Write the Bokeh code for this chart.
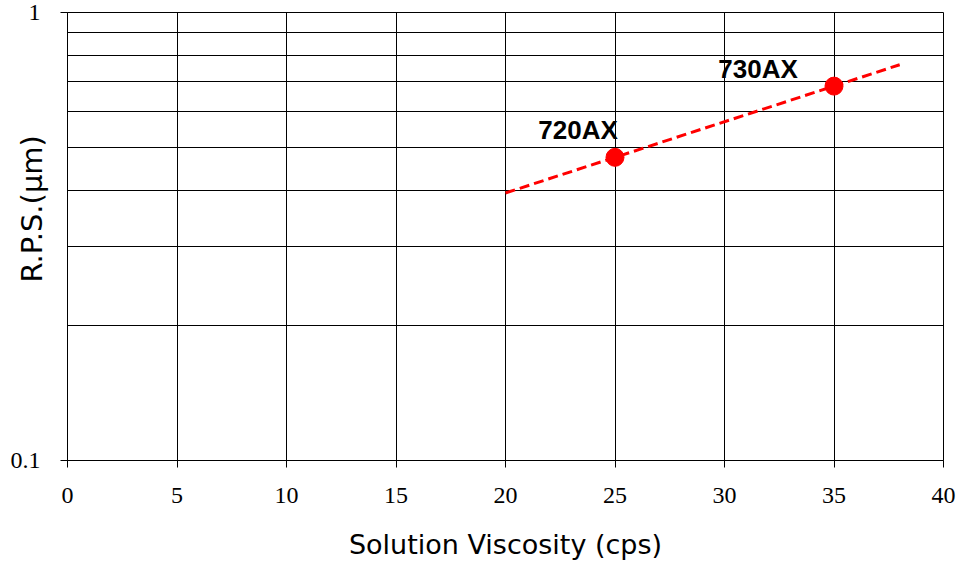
import numpy as np
from bokeh.plotting import figure
from bokeh.models import Range1d, FixedTicker, CustomJSTickFormatter, Label, ColumnDataSource
from bokeh.embed import file_html
from bokeh.resources import INLINE

# Measured resin grades: solution viscosity (cps) vs. R.P.S. (um)
grades = ["720AX", "730AX"]
viscosity = [25, 35]
rps = [0.475, 0.685]

# Trendline span along the viscosity axis
trend_x_span = [20, 38]

# Axis ticks
x_ticks = [0, 5, 10, 15, 20, 25, 30, 35, 40]
y_major = [0.1, 1]
y_minor = [0.2, 0.3, 0.4, 0.5, 0.6, 0.7, 0.8, 0.9]

# Exponential trendline fitted to the measured points
b, ln_a = np.polyfit(viscosity, np.log(rps), 1)
trend_x = np.array(trend_x_span, dtype=float)
trend_y = np.exp(ln_a + b * trend_x)

p = figure(
    frame_width=876, frame_height=448,
    min_border_left=67, min_border_right=13, min_border_top=12, min_border_bottom=103,
    x_range=Range1d(0, 40), y_range=Range1d(0.1, 1), y_axis_type="log",
    output_backend="svg", toolbar_location=None,
    background_fill_color="white", border_fill_color="white",
)
p.outline_line_color = "black"
p.outline_line_width = 1

# X axis
p.xaxis.ticker = FixedTicker(ticks=x_ticks)
p.xaxis.axis_line_color = "black"
p.xaxis.major_tick_out = 7
p.xaxis.major_tick_in = 0
p.xaxis.minor_tick_out = 0
p.xaxis.minor_tick_in = 0
p.xaxis.major_tick_line_color = "black"
p.xaxis.major_label_text_font = "Liberation Serif"
p.xaxis.major_label_text_font_size = "24px"
p.xaxis.major_label_text_color = "black"
p.xaxis.major_label_standoff = 20
p.xaxis.axis_label = "Solution Viscosity (cps)"
p.xaxis.axis_label_text_font = "DejaVu Sans"
p.xaxis.axis_label_text_font_style = "normal"
p.xaxis.axis_label_text_font_size = "27px"
p.xaxis.axis_label_text_color = "black"
p.xaxis.axis_label_standoff = 23

# Y axis (log); the title is lifted above the frame centre by leading no-break spaces
p.yaxis.ticker = FixedTicker(ticks=y_major, minor_ticks=y_minor)
p.yaxis.formatter = CustomJSTickFormatter(code="return tick.toString();")
p.yaxis.axis_line_color = "black"
p.yaxis.major_tick_out = 7
p.yaxis.major_tick_in = 0
p.yaxis.minor_tick_out = 0
p.yaxis.minor_tick_in = 0
p.yaxis.major_tick_line_color = "black"
p.yaxis.major_label_text_font = "Liberation Serif"
p.yaxis.major_label_text_font_size = "24px"
p.yaxis.major_label_text_color = "black"
p.yaxis.major_label_standoff = 20
p.yaxis.axis_label = "\u00a0" * 6 + "R.P.S.(\u03bcm)"
p.yaxis.axis_label_text_font = "DejaVu Sans"
p.yaxis.axis_label_text_font_style = "normal"
p.yaxis.axis_label_text_font_size = "29px"
p.yaxis.axis_label_text_color = "black"
p.yaxis.axis_label_standoff = -41

# Grid
p.xgrid.ticker = FixedTicker(ticks=x_ticks)
p.xgrid.grid_line_color = "black"
p.xgrid.grid_line_width = 1
p.ygrid.grid_line_color = "black"
p.ygrid.minor_grid_line_color = "black"
p.ygrid.grid_line_width = 1
p.ygrid.minor_grid_line_width = 1

# Trendline and points
p.line(trend_x, trend_y, line_color="#ff0000", line_width=3, line_dash="10 5")
src = ColumnDataSource(dict(x=viscosity, y=rps, name=grades))
p.scatter("x", "y", source=src, size=18, marker="circle",
          fill_color="#ff0000", line_color="#ff0000")

# Grade labels
label_dx = [-37, -76]
label_dy = [27, 17]
for gx, gy, name, dx, dy in zip(viscosity, rps, grades, label_dx, label_dy):
    p.add_layout(Label(x=gx, y=gy, text=name, x_offset=dx, y_offset=dy,
                       text_align="center", text_baseline="alphabetic",
                       text_font="Liberation Sans", text_font_style="bold",
                       text_font_size="26px", text_color="black"))

open("out.html", "w").write(file_html(p, INLINE))
